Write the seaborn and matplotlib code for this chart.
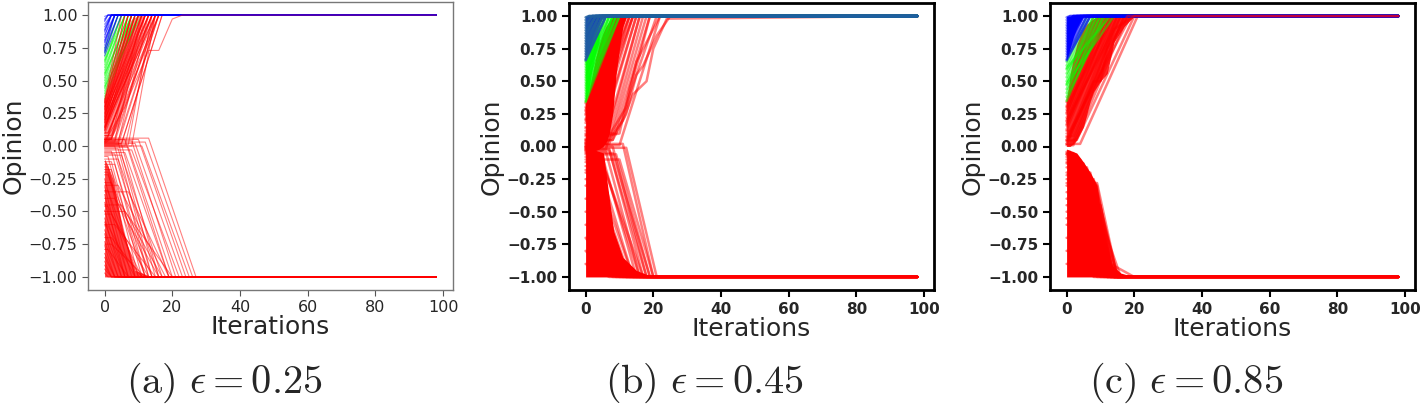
import numpy as np
import pandas as pd
import matplotlib
matplotlib.use("Agg")
import matplotlib.pyplot as plt
import seaborn as sns

# opinion trajectories: start value, iteration where the
# agent starts moving (hold) and iteration where it reaches the consensus value
ITER_MAX = 98
Y_TICKS = [-1.0, -0.75, -0.5, -0.25, 0.0, 0.25, 0.5, 0.75, 1.0]
X_TICKS = [0, 20, 40, 60, 80, 100]
CAPTIONS = [r"$\mathrm{(a)}\ \epsilon = 0.25$", r"$\mathrm{(b)}\ \epsilon = 0.45$", r"$\mathrm{(c)}\ \epsilon = 0.85$"]

# ---------------- panel (a), eps = 0.25 ----------------
A_BLUE_START = [0.99, 0.97, 0.95, 0.93, 0.91, 0.89, 0.87, 0.85, 0.83, 0.81, 0.79, 0.77, 0.75, 0.73, 0.71, 0.69, 0.96, 0.88, 0.80, 0.72]
A_BLUE_HOLD = [0] * 20
A_BLUE_REACH = [1, 1, 1, 2, 2, 2, 2, 3, 2, 3, 3, 3, 4, 3, 4, 5, 1, 2, 3, 4]
A_GREEN_START = [0.74, 0.71, 0.68, 0.66, 0.64, 0.62, 0.60, 0.58, 0.56, 0.54, 0.52, 0.50, 0.48, 0.46, 0.44, 0.42, 0.40, 0.38, 0.36, 0.65, 0.55, 0.45]
A_GREEN_HOLD = [0] * 22
A_GREEN_REACH = [3, 4, 4, 5, 5, 5, 6, 6, 6, 7, 7, 7, 8, 8, 8, 9, 9, 10, 10, 6, 8, 11]
A_RED_UP_START = [0.35, 0.34, 0.33, 0.32, 0.31, 0.30, 0.29, 0.28, 0.27, 0.26, 0.25, 0.24, 0.23, 0.22, 0.21, 0.20, 0.19, 0.18,
                  0.17, 0.16, 0.15, 0.14, 0.13, 0.12, 0.11, 0.10, 0.09, 0.08, 0.07, 0.06, 0.05, 0.04, 0.03, 0.02, 0.01, 0.00,
                  0.30, 0.25, 0.20, 0.15, 0.10, 0.05, 0.02, 0.01, 0.03, 0.00, 0.04, 0.06, 0.12, 0.18, 0.22, 0.28, 0.33, 0.08, 0.14]
A_RED_UP_HOLD = [0, 0, 0, 0, 0, 0, 0, 0, 0, 0, 0, 0, 0, 0, 0, 0, 0, 0,
                 0, 0, 0, 0, 0, 0, 0, 1, 0, 2, 1, 3, 2, 4, 3, 5, 4, 6,
                 0, 0, 0, 0, 1, 2, 5, 7, 4, 8, 3, 2, 0, 0, 0, 0, 0, 1, 0]
A_RED_UP_REACH = [5, 7, 6, 8, 7, 9, 8, 10, 9, 11, 8, 10, 12, 9, 11, 13, 10, 12,
                  14, 11, 13, 15, 12, 14, 13, 15, 14, 16, 13, 15, 14, 16, 15, 17, 16, 15,
                  12, 13, 14, 15, 16, 16, 17, 14, 13, 15, 12, 11, 10, 9, 8, 7, 6, 14, 12]
A_RED_UP_CORE_IT = [0, 2, 4, 6, 8, 10, 12]
A_RED_UP_CORE_LOW = [0.02, 0.06, 0.16, 0.35, 0.60, 0.85, 1.0]
A_RED_UP_CORE_TOP = [0.34, 0.50, 0.70, 0.88, 0.97, 1.0, 1.0]
A_RED_DOWN_START = [0.06, 0.05, 0.05, 0.04, 0.03, 0.03, 0.02, 0.01, 0.00, 0.00, -0.01, -0.02, -0.03, -0.04, -0.05, -0.06, -0.07, -0.08,
                    -0.10, -0.12, -0.14, -0.16, -0.18, -0.20,
                    -0.22, -0.25, -0.28, -0.31, -0.34, -0.37, -0.40, -0.43, -0.46, -0.49, -0.52, -0.55, -0.58, -0.61, -0.64, -0.67,
                    -0.70, -0.73, -0.76, -0.79, -0.82, -0.85, -0.88, -0.91, -0.94, -0.97, -0.30, -0.45, -0.60, -0.75, -0.50, -0.35]
A_RED_DOWN_HOLD = [13, 10, 6, 8, 12, 4, 9, 5, 11, 3, 7, 4, 8, 2, 6, 3, 5, 1,
                   4, 2, 3, 1, 2, 1,
                   1, 0, 2, 0, 1, 0, 3, 0, 1, 0, 2, 0, 0, 1, 0, 0,
                   2, 0, 0, 1, 0, 0, 0, 0, 0, 0, 4, 5, 3, 2, 6, 7]
A_RED_DOWN_REACH = [27, 24, 19, 21, 26, 15, 23, 16, 25, 13, 20, 14, 22, 12, 19, 14, 17, 10,
                    16, 11, 13, 9, 12, 9,
                    12, 8, 14, 7, 10, 6, 16, 7, 11, 6, 13, 5, 6, 9, 5, 4,
                    11, 4, 3, 7, 3, 3, 2, 2, 2, 1, 18, 17, 15, 12, 20, 19]
A_CORE_IT = [0, 1, 2.6, 5.3, 9, 14]
A_CORE_TOP = [-0.1, -0.15, -0.26, -0.64, -0.95, -1.0]
A_EXTRA_IT = [[0, 6, 13, 16, 20, 23, 98]]
A_EXTRA_OP = [[0.03, 0.30, 0.73, 0.73, 0.97, 1.0, 1.0]]

# ---------------- panel (b), eps = 0.45 ----------------
B_BLUE_START = [0.99, 0.97, 0.95, 0.93, 0.91, 0.89, 0.87, 0.85, 0.83, 0.81, 0.79, 0.77, 0.75, 0.73, 0.71, 0.69, 0.67, 0.66]
B_BLUE_HOLD = [0] * 18
B_BLUE_REACH = [1, 1, 2, 2, 2, 3, 3, 3, 3, 4, 4, 4, 5, 4, 5, 5, 6, 6]
B_BLUE_CORE_IT = [0, 1, 2, 3, 4, 6]
B_BLUE_CORE_LOW = [0.65, 0.72, 0.82, 0.90, 0.96, 1.0]
B_GREEN_START = [0.65, 0.63, 0.61, 0.59, 0.57, 0.55, 0.53, 0.51, 0.49, 0.47, 0.45, 0.43, 0.41, 0.39, 0.37, 0.35, 0.34]
B_GREEN_HOLD = [0] * 17
B_GREEN_REACH = [5, 6, 5, 7, 6, 8, 7, 6, 8, 9, 7, 8, 9, 10, 8, 9, 10]
B_GREEN_CORE_IT = [0, 1, 2, 3, 4]
B_GREEN_CORE_LOW = [0.33, 0.45, 0.6, 0.72, 0.8]
B_GREEN_CORE_TOP = [0.65, 0.72, 0.82, 0.90, 0.96]
B_RED_UP_START = [0.33, 0.30, 0.27, 0.24, 0.21, 0.18, 0.15, 0.12, 0.09, 0.06, 0.03, 0.00, -0.02, 0.02, 0.05, 0.10, 0.20, 0.28, 0.01, 0.04, -0.01, 0.08, 0.14, 0.25]
B_RED_UP_HOLD = [0, 0, 0, 0, 0, 0, 1, 1, 2, 3, 4, 5, 6, 7, 8, 9, 0, 0, 10, 6, 3, 2, 1, 0]
B_RED_UP_REACH = [9, 10, 10, 11, 11, 12, 12, 13, 13, 14, 15, 16, 17, 18, 19, 21, 13, 11, 22, 16, 15, 14, 14, 12]
B_RED_UP_CORE_IT = [0, 1, 2, 3, 4, 5, 6, 7, 8, 9, 10, 11, 12]
B_RED_UP_CORE_LOW = [-0.05, -0.05, -0.04, -0.03, -0.02, 0.0, 0.03, 0.10, 0.25, 0.55, 0.75, 0.92, 1.0]
B_RED_UP_CORE_TOP = [0.33, 0.42, 0.55, 0.68, 0.78, 0.86, 0.92, 0.96, 0.99, 1.0, 1.0, 1.0, 1.0]
B_RED_DOWN_START = [0.00, -0.02, -0.04, -0.06, -0.08, -0.10, -0.15, -0.20, -0.25, -0.30, 0.02, -0.01, -0.03, -0.05, -0.12, -0.18, -0.40, -0.50, -0.60, -0.70, -0.80, -0.90]
B_RED_DOWN_HOLD = [8, 7, 6, 9, 5, 10, 4, 6, 3, 2, 11, 12, 7, 8, 5, 3, 2, 1, 1, 0, 0, 0]
B_RED_DOWN_REACH = [18, 17, 16, 19, 15, 20, 14, 17, 13, 12, 20, 21, 18, 19, 16, 14, 12, 11, 10, 9, 8, 7]
B_CORE_IT = [0, 3, 5.3, 6.5, 8.3, 11, 15, 20]
B_CORE_TOP = [-0.02, -0.03, -0.05, -0.30, -0.65, -0.85, -0.95, -1.0]
B_EXTRA_IT = [[0, 8, 12, 15, 17, 21, 25, 98], [0, 6, 11, 14, 18, 20, 24, 98], [0, 10, 13, 16, 19, 98], [0, 5, 12, 15, 22, 98]]
B_EXTRA_OP = [[0.03, 0.05, 0.25, 0.55, 0.62, 0.85, 1.0, 1.0], [0.0, 0.02, 0.20, 0.40, 0.50, 0.75, 0.98, 1.0],
              [0.05, 0.10, 0.45, 0.70, 1.0, 1.0], [-0.03, 0.0, 0.30, 0.65, 1.0, 1.0]]

# ---------------- panel (c), eps = 0.85 ----------------
C_BLUE_START = [0.99, 0.97, 0.95, 0.93, 0.91, 0.89, 0.87, 0.85, 0.83, 0.81, 0.79, 0.77, 0.75, 0.73, 0.71, 0.69, 0.67, 0.66]
C_BLUE_HOLD = [0] * 18
C_BLUE_REACH = [1, 1, 2, 2, 2, 3, 3, 3, 4, 4, 4, 5, 5, 5, 6, 6, 7, 7]
C_BLUE_CORE_IT = [0, 1, 2, 3, 4, 5]
C_BLUE_CORE_LOW = [0.65, 0.75, 0.84, 0.91, 0.96, 1.0]
C_GREEN_START = [0.65, 0.62, 0.59, 0.56, 0.53, 0.50, 0.47, 0.44, 0.41, 0.38, 0.35, 0.60, 0.48]
C_GREEN_HOLD = [0] * 13
C_GREEN_REACH = [6, 7, 8, 9, 8, 10, 9, 11, 10, 12, 11, 13, 14]
C_RED_UP_START = [0.34, 0.31, 0.28, 0.25, 0.22, 0.19, 0.16, 0.13, 0.10, 0.07, 0.04, 0.01, 0.30, 0.20, 0.12, 0.05, 0.02, 0.26, 0.17, 0.08]
C_RED_UP_HOLD = [0, 0, 0, 0, 0, 0, 0, 0, 1, 1, 2, 2, 0, 0, 1, 3, 4, 0, 0, 2]
C_RED_UP_REACH = [8, 9, 10, 11, 12, 13, 13, 14, 15, 16, 17, 18, 14, 16, 19, 20, 21, 12, 15, 17]
C_RED_UP_CORE_IT = [0, 1, 2, 3, 4, 5, 6, 7, 8, 10, 12, 14, 17, 20]
C_RED_UP_CORE_LOW = [0.0, 0.0, 0.02, 0.05, 0.10, 0.15, 0.25, 0.35, 0.42, 0.50, 0.56, 0.80, 0.92, 1.0]
C_RED_UP_CORE_TOP = [0.35, 0.55, 0.68, 0.78, 0.85, 0.90, 0.94, 0.96, 0.98, 1.0, 1.0, 1.0, 1.0, 1.0]
C_RED_DOWN_START = [-0.04, -0.06, -0.08, -0.10, -0.13, -0.16, -0.20, -0.25, -0.30, -0.35, -0.40, -0.50, -0.60, -0.70, -0.80, -0.90, -0.05, -0.12, -0.22, -0.28, -0.45, -0.55]
C_RED_DOWN_HOLD = [1, 2, 3, 4, 5, 6, 7, 8, 8, 9, 9, 10, 10, 9, 8, 6, 2, 4, 7, 9, 10, 10]
C_RED_DOWN_REACH = [8, 10, 11, 12, 13, 14, 14, 15, 14, 15, 14, 15, 15, 14, 13, 12, 9, 12, 13, 15, 14, 16]
C_CORE_IT = [0, 1, 2, 3, 5, 7, 9, 10.5, 13, 16, 20]
C_CORE_TOP = [-0.02, -0.03, -0.04, -0.05, -0.12, -0.20, -0.30, -0.60, -0.90, -0.97, -1.0]
C_EXTRA_IT = [[0, 6, 9, 11, 13, 20, 98], [0, 3, 9, 11, 14, 20, 98], [0, 4, 8, 10, 12, 18, 98]]
C_EXTRA_OP = [[-0.06, -0.20, -0.30, -0.60, -0.90, -1.0, -1.0], [0.02, 0.20, 0.55, 0.70, 0.90, 1.0, 1.0], [0.05, 0.25, 0.50, 0.50, 0.75, 1.0, 1.0]]

BLUE = "#0000ff"
GREEN = "#00ff00"
RED = "#ff0000"


def traj_frame(starts, holds, reaches, target):
    rows = []
    for k, (s, h, r) in enumerate(zip(starts, holds, reaches)):
        pts = [(0, s)]
        if h > 0:
            pts.append((h, s))
        pts += [(r, target), (ITER_MAX, target)]
        for it, op in pts:
            rows.append({"unit": k, "Iterations": it, "Opinion": op})
    return pd.DataFrame(rows)


def extra_frame(its, ops):
    rows = []
    for k, (xs, ys) in enumerate(zip(its, ops)):
        for it, op in zip(xs, ys):
            rows.append({"unit": k, "Iterations": it, "Opinion": op})
    return pd.DataFrame(rows)


def draw(ax, df, color, lw, alpha):
    sns.lineplot(data=df, x="Iterations", y="Opinion", units="unit", estimator=None,
                 color=color, lw=lw, alpha=alpha, ax=ax, legend=False)


sns.set_theme(style="ticks")
plt.rcParams["font.family"] = ["DejaVu Sans"]
plt.rcParams["mathtext.fontset"] = "cm"

fig = plt.figure(figsize=(14.24, 4.05), dpi=100)
ax_a = fig.add_axes([88 / 1424, 115 / 405, 365 / 1424, 288 / 405])
ax_b = fig.add_axes([569 / 1424, 115 / 405, 365 / 1424, 287 / 405])
ax_c = fig.add_axes([1050 / 1424, 115 / 405, 365 / 1424, 287 / 405])

# ---- (a): thin lines
lw, al = 0.8, 0.5
ax_a.fill_between(A_CORE_IT, A_CORE_TOP, -1.0, color=RED, alpha=0.75, lw=0)
draw(ax_a, traj_frame(A_RED_DOWN_START, A_RED_DOWN_HOLD, A_RED_DOWN_REACH, -1.0), RED, lw, al)
draw(ax_a, traj_frame(A_GREEN_START, A_GREEN_HOLD, A_GREEN_REACH, 1.0), GREEN, lw, al)
ax_a.fill_between(A_RED_UP_CORE_IT, A_RED_UP_CORE_LOW, A_RED_UP_CORE_TOP, color=RED, alpha=0.45, lw=0)
draw(ax_a, traj_frame(A_RED_UP_START, A_RED_UP_HOLD, A_RED_UP_REACH, 1.0), RED, lw, al)
draw(ax_a, traj_frame(A_BLUE_START, A_BLUE_HOLD, A_BLUE_REACH, 1.0), BLUE, lw, al)
draw(ax_a, extra_frame(A_EXTRA_IT, A_EXTRA_OP), RED, lw, al)

# ---- (b): thick lines, blue on top
lw, al = 1.8, 0.5
ax_b.fill_between(B_CORE_IT, B_CORE_TOP, -1.0, color=RED, lw=0)
ax_b.fill_between(B_RED_UP_CORE_IT, B_RED_UP_CORE_LOW, B_RED_UP_CORE_TOP, color=RED, lw=0)
draw(ax_b, traj_frame(B_RED_DOWN_START, B_RED_DOWN_HOLD, B_RED_DOWN_REACH, -1.0), RED, lw, al)
draw(ax_b, traj_frame(B_RED_UP_START, B_RED_UP_HOLD, B_RED_UP_REACH, 1.0), RED, lw, al)
draw(ax_b, extra_frame(B_EXTRA_IT, B_EXTRA_OP), RED, lw, al)
ax_b.fill_between(B_GREEN_CORE_IT, B_GREEN_CORE_LOW, B_GREEN_CORE_TOP, color=GREEN, lw=0, alpha=0.85)
draw(ax_b, traj_frame(B_GREEN_START, B_GREEN_HOLD, B_GREEN_REACH, 1.0), GREEN, lw, al)
ax_b.fill_between(B_BLUE_CORE_IT, B_BLUE_CORE_LOW, 1.0, color=BLUE, lw=0)
draw(ax_b, traj_frame(B_BLUE_START, B_BLUE_HOLD, B_BLUE_REACH, 1.0), "#1f5fa0", lw, 0.8)

# ---- (c): thick lines, blue under the last red agents
ax_c.fill_between(C_CORE_IT, C_CORE_TOP, -1.0, color=RED, lw=0)
draw(ax_c, traj_frame(C_RED_DOWN_START, C_RED_DOWN_HOLD, C_RED_DOWN_REACH, -1.0), RED, lw, al)
ax_c.fill_between(C_RED_UP_CORE_IT, C_RED_UP_CORE_LOW, C_RED_UP_CORE_TOP, color=RED, lw=0, alpha=0.85)
draw(ax_c, traj_frame(C_RED_UP_START, C_RED_UP_HOLD, C_RED_UP_REACH, 1.0), RED, lw, al)
draw(ax_c, traj_frame(C_GREEN_START, C_GREEN_HOLD, C_GREEN_REACH, 1.0), GREEN, lw, al)
ax_c.fill_between(C_BLUE_CORE_IT, C_BLUE_CORE_LOW, 1.0, color=BLUE, lw=0)
draw(ax_c, traj_frame(C_BLUE_START, C_BLUE_HOLD, C_BLUE_REACH, 1.0), BLUE, lw, al)
draw(ax_c, extra_frame(C_EXTRA_IT, C_EXTRA_OP), RED, lw, al)

for i, ax in enumerate([ax_a, ax_b, ax_c]):
    ax.set_xlim(-0.05 * ITER_MAX, 1.05 * ITER_MAX)
    ax.set_ylim(-1.1, 1.1)
    ax.set_yticks(Y_TICKS)
    ax.set_yticklabels([f"{v:.2f}".replace("-", "\u2212") for v in Y_TICKS])
    ax.set_xticks(X_TICKS)
    ax.set_xticklabels([str(v) for v in X_TICKS])
    ax.set_xlabel("Iterations", fontsize=18, labelpad=0)
    ax.set_ylabel("Opinion", fontsize=18, labelpad=2)
    if i == 0:
        ax.tick_params(labelsize=11.5, length=4, width=0.8, color="#555555")
        for sp in ax.spines.values():
            sp.set_color("#777777")
            sp.set_linewidth(1.0)
    else:
        ax.tick_params(labelsize=11, length=5, width=1.5, color="black")
        for lab in ax.get_xticklabels() + ax.get_yticklabels():
            lab.set_fontweight("bold")
        for sp in ax.spines.values():
            sp.set_color("black")
            sp.set_linewidth(2.0)

for x, cap in zip([224 / 1424, 704 / 1424, 1186 / 1424], CAPTIONS):
    fig.text(x, 22 / 405, cap, ha="center", va="center", fontsize=29)

fig.savefig("out.png", dpi=100)
